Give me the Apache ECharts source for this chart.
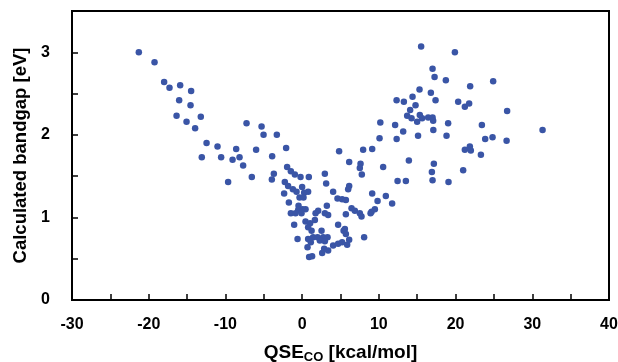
<!DOCTYPE html>
<html>
<head>
<meta charset="utf-8">
<script src="https://cdn.jsdelivr.net/npm/echarts@6/dist/echarts.min.js"></script>
<style>
  html, body { margin: 0; padding: 0; background: #fff; }
  #chart { width: 618px; height: 362px; }
</style>
</head>
<body>
<div id="chart"></div>
<script>
// 数据：QSE 与 计算带隙
var qse = [
  -21.29, -19.24, -17.99, -17.29, -15.90, -14.47, -16.03, -14.55, -16.37, -15.07,
  -13.21, -13.95, -7.25, -5.29, -5.03, -3.30, -12.46, -11.03, -8.60, -6.00,
  -13.08, -10.56, -9.07, -8.16, -7.69, -3.91, -6.56, -3.69, -3.95, -9.65,
  -2.09, 4.82, -1.96, -1.47, -0.95, -0.21, 0.87, 2.96, 3.13, -2.26,
  -1.83, -2.35, -1.21, -0.73, 0.00, 0.26, 0.78, -0.34, 0.18, -1.73,
  4.04, 4.61, 5.21, -0.47, 0.05, -0.52, 0.44, -1.47, -0.86, -0.08,
  2.09, 3.22, 2.96, 3.39, 1.75, 0.44, 1.04, 1.66, -1.04, 0.78,
  1.23, 2.53, 4.69, 5.40, -0.60, 0.78, 1.43, 2.01, 2.74, 3.31,
  1.13, 2.31, 2.96, 0.70, 2.87, 3.39, 2.61, 4.04, 4.69, 5.21,
  0.91, 1.30, 7.95, 9.13, 6.13, 7.61, 7.52, 7.78, 10.56, 13.91,
  12.44, 13.52, 6.13, 6.00, 5.70, 9.13, 10.91, 9.83, 11.73, 6.44,
  6.87, 7.52, 7.74, 5.70, 9.05, 9.48, 8.92, 5.57, 5.70, 6.13,
  5.87, 8.08, 17.17, 16.91, 17.00, 19.08, 20.99, 21.21, 21.86, 21.99,
  23.30, 23.86, 24.82, 26.65, 15.51, 19.91, 17.00, 17.26, 18.73, 21.90,
  24.90, 15.30, 16.78, 17.39, 12.31, 13.26, 14.39, 14.78, 14.08, 20.34,
  21.21, 21.77, 26.72, 13.69, 14.26, 15.34, 15.64, 14.99, 16.43, 17.00,
  17.08, 19.03, 23.43, 31.34, 10.19, 12.12, 13.17, 17.10, 10.09, 12.32,
  15.11, 18.82
]
var bandgap = [
  3.00, 2.88, 2.64, 2.57, 2.60, 2.53, 2.42, 2.36, 2.23, 2.16,
  2.22, 2.08, 2.14, 2.10, 2.00, 2.00, 1.90, 1.86, 1.83, 1.82,
  1.73, 1.73, 1.70, 1.73, 1.63, 1.74, 1.49, 1.53, 1.46, 1.43,
  1.84, 1.80, 1.61, 1.56, 1.52, 1.49, 1.49, 1.53, 1.41, 1.43,
  1.38, 1.29, 1.34, 1.31, 1.37, 1.30, 1.31, 1.24, 1.24, 1.18,
  1.31, 1.23, 1.22, 1.14, 1.10, 1.09, 1.10, 1.05, 1.05, 1.05,
  1.08, 1.14, 1.05, 1.03, 1.05, 0.95, 0.93, 0.97, 0.91, 0.88,
  0.84, 0.84, 0.91, 0.84, 0.74, 0.74, 0.76, 0.76, 0.76, 0.76,
  0.70, 0.72, 0.71, 0.64, 0.62, 0.60, 0.57, 0.66, 0.68, 0.70,
  0.52, 0.53, 1.82, 1.83, 1.67, 1.65, 1.60, 1.52, 1.61, 1.69,
  1.44, 1.44, 1.38, 1.34, 1.21, 1.29, 1.26, 1.20, 1.17, 1.11,
  1.08, 1.05, 1.01, 1.04, 1.07, 1.10, 1.05, 0.86, 0.80, 0.73,
  0.67, 0.76, 1.65, 1.55, 1.45, 1.43, 1.57, 1.82, 1.86, 1.81,
  1.76, 1.95, 1.97, 1.93, 3.07, 3.00, 2.80, 2.70, 2.66, 2.59,
  2.65, 2.55, 2.51, 2.42, 2.42, 2.40, 2.46, 2.36, 2.30, 2.40,
  2.34, 2.38, 2.29, 2.23, 2.20, 2.24, 2.20, 2.16, 2.21, 2.21,
  2.17, 2.14, 2.12, 2.06, 2.15, 2.12, 2.04, 2.06, 1.96, 1.95,
  1.99, 1.99
]
var xTicks = { min: -30, max: 40, step: 10 }
var yTicks = { min: 0, max: 3.5, step: 1 }

var points = qse.map(function (x, i) {
  return [x, bandgap[i]]
})

var myChart = echarts.init(document.getElementById('chart'))
var font = 'Liberation Sans, Arial, sans-serif'

// 刻度朝内，主次刻度同长
var tickStyle = { color: '#000', width: 1.5 }
var lineStyle = { color: '#000', width: 2 }

var option = {
  animation: false,
  grid: {
    left: 72,
    right: 9,
    top: 11,
    bottom: 62,
    outerBoundsMode: 'none', // 不自动收缩绘图区
    show: true,
    borderColor: '#000',
    borderWidth: 2
  },
  xAxis: {
    type: 'value',
    min: xTicks.min,
    max: xTicks.max,
    interval: xTicks.step,
    name: 'QSE{sub|CO} [kcal/mol]',
    nameLocation: 'middle',
    nameGap: 42,
    nameTextStyle: {
      color: '#000',
      fontFamily: font,
      fontWeight: 'bold',
      fontSize: 19,
      lineHeight: 22,
      rich: {
        sub: { fontFamily: font, fontWeight: 'bold', fontSize: 13, lineHeight: 22, verticalAlign: 'bottom', color: '#000' }
      }
    },
    axisLine: { show: true, onZero: false, lineStyle: lineStyle },
    axisTick: { show: true, inside: true, length: 6, lineStyle: tickStyle },
    minorTick: { show: true, splitNumber: 2, length: 6, lineStyle: tickStyle },
    splitLine: { show: false },
    minorSplitLine: { show: false },
    axisLabel: { color: '#000', fontFamily: font, fontWeight: 'bold', fontSize: 16, margin: 17 }
  },
  yAxis: {
    type: 'value',
    min: yTicks.min,
    max: yTicks.max,
    interval: yTicks.step,
    name: 'Calculated bandgap [eV]',
    nameLocation: 'middle',
    nameGap: 42,
    nameTextStyle: { color: '#000', fontFamily: font, fontWeight: 'bold', fontSize: 18.5 },
    axisLine: { show: true, onZero: false, lineStyle: lineStyle },
    axisTick: { show: true, inside: true, length: 6, lineStyle: tickStyle },
    minorTick: { show: true, splitNumber: 2, length: 6, lineStyle: tickStyle },
    splitLine: { show: false },
    minorSplitLine: { show: false },
    axisLabel: {
      color: '#000', fontFamily: font, fontWeight: 'bold', fontSize: 16, margin: 22,
      formatter: function (v) { return v % 1 === 0 ? String(v) : '' }
    }
  },
  series: [
    {
      type: 'scatter',
      data: points,
      symbolSize: 6.5,
      itemStyle: { color: '#3a55a6', opacity: 1 }
    }
  ]
}

myChart.setOption(option)
</script>
</body>
</html>
